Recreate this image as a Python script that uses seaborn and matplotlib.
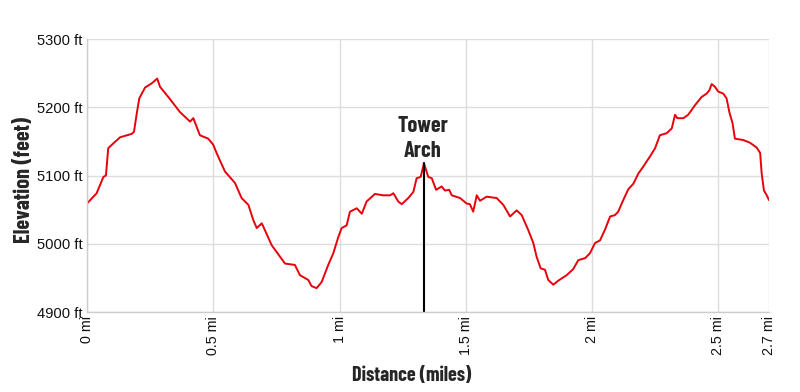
import matplotlib
matplotlib.use("Agg")
import matplotlib.pyplot as plt
import seaborn as sns
import pandas as pd

distance_mi = [0.0, 0.038, 0.065, 0.075, 0.084, 0.104, 0.131, 0.177, 0.186, 0.197, 0.207, 0.23, 0.256, 0.278,
               0.289, 0.322, 0.368, 0.408, 0.421, 0.447, 0.48, 0.5, 0.513, 0.546, 0.586, 0.612, 0.639, 0.658,
               0.672, 0.692, 0.731, 0.784, 0.823, 0.843, 0.876, 0.889, 0.909, 0.929, 0.955, 0.975, 0.995,
               1.008, 1.028, 1.041, 1.068, 1.088, 1.107, 1.14, 1.173, 1.2, 1.213, 1.232, 1.246, 1.272, 1.292,
               1.305, 1.321, 1.334, 1.351, 1.365, 1.382, 1.404, 1.417, 1.434, 1.444, 1.477, 1.503, 1.516,
               1.529, 1.543, 1.556, 1.582, 1.622, 1.648, 1.675, 1.701, 1.721, 1.747, 1.767, 1.78, 1.796,
               1.813, 1.826, 1.846, 1.866, 1.899, 1.925, 1.945, 1.972, 1.991, 2.011, 2.031, 2.051, 2.071,
               2.09, 2.103, 2.123, 2.143, 2.163, 2.183, 2.202, 2.229, 2.249, 2.268, 2.295, 2.315, 2.328,
               2.337, 2.361, 2.38, 2.407, 2.433, 2.453, 2.464, 2.473, 2.486, 2.499, 2.519, 2.532, 2.543,
               2.556, 2.565, 2.598, 2.625, 2.651, 2.665, 2.671, 2.68, 2.691, 2.7]
elevation_ft = [5059, 5074, 5098, 5100, 5140, 5147, 5156, 5161, 5164, 5191, 5213, 5229, 5235, 5242,
                5230, 5215, 5193, 5179, 5184, 5159, 5154, 5145, 5133, 5106, 5089, 5067, 5057, 5035,
                5023, 5030, 4998, 4971, 4969, 4954, 4947, 4938, 4935, 4944, 4969, 4986, 5010,
                5023, 5027, 5047, 5052, 5044, 5062, 5073, 5071, 5071, 5074, 5062, 5058, 5067, 5076,
                5096, 5098, 5118, 5098, 5096, 5079, 5084, 5078, 5079, 5071, 5067, 5059, 5058,
                5047, 5071, 5063, 5069, 5067, 5057, 5040, 5049, 5042, 5020, 5001, 4981, 4964,
                4962, 4947, 4940, 4946, 4954, 4963, 4976, 4979, 4986, 5001, 5005, 5021, 5040,
                5042, 5047, 5064, 5080, 5088, 5103, 5113, 5128, 5140, 5159, 5162, 5169, 5189,
                5184, 5184, 5189, 5203, 5215, 5220, 5225, 5234, 5230, 5223, 5220, 5213, 5193,
                5176, 5154, 5152, 5148, 5141, 5133, 5103, 5078, 5071, 5064]

x_ticks = [0, 0.5, 1, 1.5, 2, 2.5, 2.7]
x_tick_labels = ["0 mi", "0.5 mi", "1 mi", "1.5 mi", "2 mi", "2.5 mi", "2.7 mi"]
y_ticks = [4900, 5000, 5100, 5200, 5300]
y_tick_labels = ["4900 ft", "5000 ft", "5100 ft", "5200 ft", "5300 ft"]
poi_name = "Tower\nArch"
poi_x = 1.334
poi_y = 5118
poi_label_y = 5127

sns.set_theme(style="white")
plt.rcParams["font.family"] = ["Liberation Sans", "DejaVu Sans"]
narrow = ["Barlow Condensed", "Asap Condensed", "Liberation Sans", "DejaVu Sans"]

fig = plt.figure(figsize=(8, 3.92), dpi=100)
ax = fig.add_axes([0.10875, 0.204, 0.8525, 0.6965])

df = pd.DataFrame({"Distance": distance_mi, "Elevation": elevation_ft})
sns.lineplot(data=df, x="Distance", y="Elevation", ax=ax, color="#e8000b", linewidth=1.4)

ax.plot([poi_x, poi_x], [4900, poi_y], color="black", linewidth=1.5)
ax.text(poi_x - 0.004, poi_label_y, poi_name, ha="center", va="baseline", fontsize=16,
        fontweight="bold", linespacing=1.3, family=narrow, multialignment="center")

ax.set_xlim(0, 2.7)
ax.set_ylim(4900, 5300)
ax.set_xticks(x_ticks)
ax.set_xticklabels(x_tick_labels, rotation=90, fontsize=10.3, color="#111111")
ax.set_yticks(y_ticks)
ax.set_yticklabels(y_tick_labels, fontsize=10.6, color="#111111")
ax.tick_params(axis="both", length=0, pad=3)
ax.grid(True, color="#dddddd", linewidth=1)
for s in ["top", "right"]:
    ax.spines[s].set_visible(False)
for s in ["left", "bottom"]:
    ax.spines[s].set_color("#cccccc")
    ax.spines[s].set_linewidth(1)

ax.set_xlabel("Distance (miles)", fontsize=14.5, fontweight="bold", family=narrow)
ax.xaxis.set_label_coords(0.4765, -0.197)
ax.set_ylabel("Elevation (feet)", fontsize=16, fontweight="bold", family=narrow)
ax.yaxis.set_label_coords(-0.077, 0.4835)

fig.savefig("out.png", dpi=100)
